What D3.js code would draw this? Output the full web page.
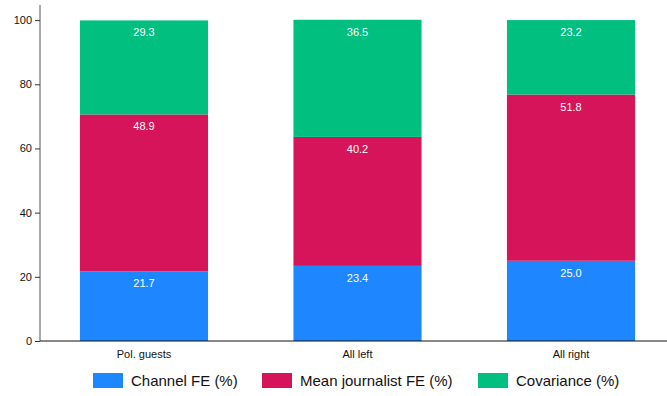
<!DOCTYPE html>
<html><head><meta charset="utf-8">
<script src="https://cdn.jsdelivr.net/npm/d3@7"></script>
<style>body{margin:0;background:#fff}svg{display:block;font-family:"Liberation Sans",Arial,Helvetica,sans-serif}</style>
</head><body><svg id="c" width="667" height="396"></svg>
<script>
const categories = ["Pol. guests", "All left", "All right"];
const seriesNames = ["Channel FE (%)", "Mean journalist FE (%)", "Covariance (%)"];
const channelFE = [21.7, 23.4, 25.0];
const journalistFE = [48.9, 40.2, 51.8];
const covariance = [29.3, 36.5, 23.2];
const yTicks = [0, 20, 40, 60, 80, 100];
const colors = ["#1e86ff", "#d6145a", "#00bf7f"];

const svg = d3.select("#c");
const x = d3.scaleBand().domain(categories).range([40, 675]).paddingInner(0.4).paddingOuter(0.187);
const y = d3.scaleLinear().domain([0, 104.7]).range([341, 5]);

const rows = categories.map((c, i) => ({cat: c, v: [channelFE[i], journalistFE[i], covariance[i]]}));
rows.forEach(r => {
  let acc = 0;
  r.v.forEach((val, k) => {
    const y0 = acc, y1 = acc + val; acc = y1;
    svg.append("rect").attr("x", x(r.cat)).attr("width", x.bandwidth())
      .attr("y", y(y1)).attr("height", y(y0) - y(y1)).attr("fill", colors[k]);
    svg.append("text").attr("x", x(r.cat) + x.bandwidth() / 2).attr("y", y(y1) + 16)
      .attr("text-anchor", "middle").attr("fill", "#fff").attr("font-size", 11)
      .text(val.toFixed(1));
  });
});

// y axis
const ya = svg.append("g").attr("transform", "translate(40,0)")
  .call(d3.axisLeft(y).tickValues(yTicks).tickSize(5).tickSizeOuter(0).tickPadding(3));
ya.select(".domain").attr("stroke", "#555").attr("d", `M0,${y(0)}V5`);
ya.selectAll(".tick line").attr("stroke", "#333");
ya.selectAll("text").attr("font-size", 11).attr("fill", "#111").attr("font-family", "Liberation Sans, Arial, sans-serif");

// x axis
const xa = svg.append("g").attr("transform", `translate(0,${y(0)})`)
  .call(d3.axisBottom(x).tickSize(0).tickPadding(9));
xa.select(".domain").attr("stroke", "#111").attr("d", "M40,0H667");
xa.selectAll("text").attr("font-size", 11).attr("fill", "#111").attr("font-family", "Liberation Sans, Arial, sans-serif");

// legend
const legX = [93, 262, 478];
seriesNames.forEach((n, k) => {
  const g = svg.append("g").attr("transform", `translate(${legX[k]},373)`);
  g.append("rect").attr("width", 30).attr("height", 15).attr("fill", colors[k]);
  g.append("text").attr("x", 38).attr("y", 13).attr("font-size", 15).attr("fill", "#111").text(n);
});
</script></body></html>
